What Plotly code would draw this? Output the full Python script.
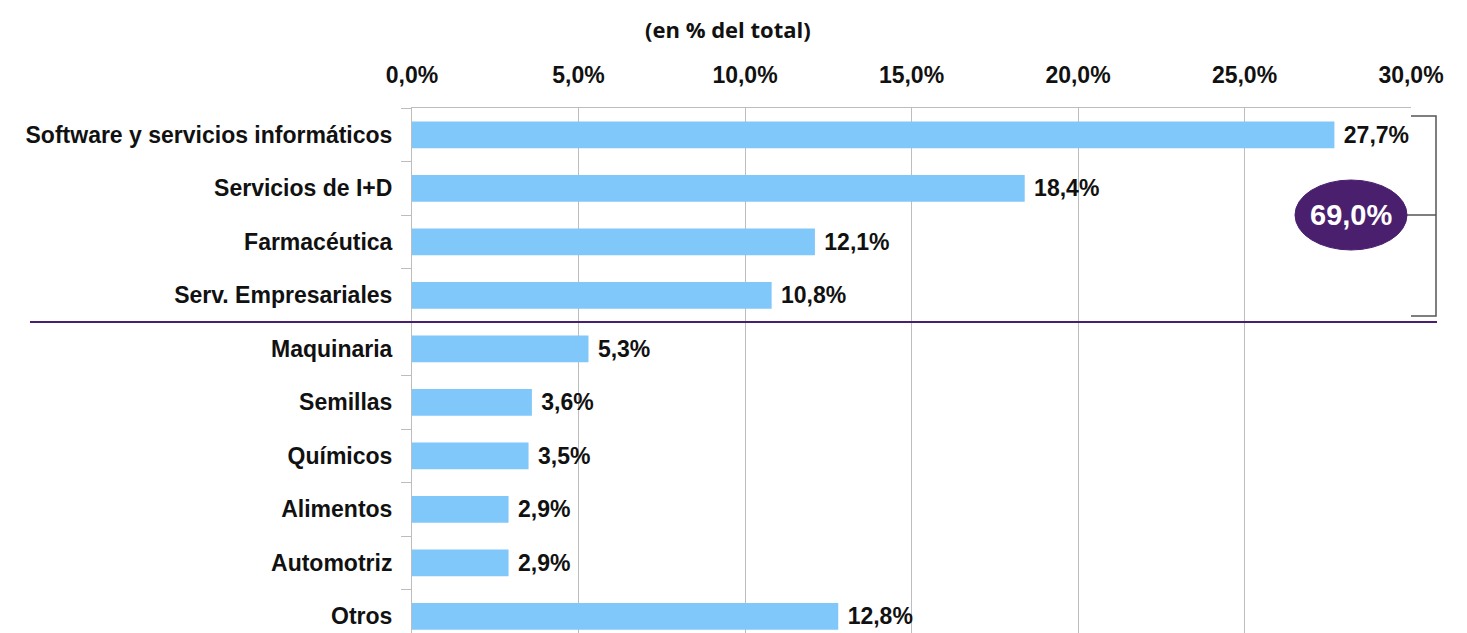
import plotly.graph_objects as go

categories = ["Software y servicios informáticos", "Servicios de I+D", "Farmacéutica",
              "Serv. Empresariales", "Maquinaria", "Semillas", "Químicos", "Alimentos",
              "Automotriz", "Otros"]
values = [27.7, 18.4, 12.1, 10.8, 5.3, 3.6, 3.5, 2.9, 2.9, 12.8]
labels = ["27,7%", "18,4%", "12,1%", "10,8%", "5,3%", "3,6%", "3,5%", "2,9%", "2,9%", "12,8%"]
tick_vals = [0, 5, 10, 15, 20, 25, 30]
tick_text = ["0,0%", "5,0%", "10,0%", "15,0%", "20,0%", "25,0%", "30,0%"]
top_total_label = "69,0%"
title_text = "(en % del total)"

PURPLE = "#4A1F6E"
FONT = "Liberation Sans, Arial, sans-serif"

# page body has an 8px margin; work in screen pixels and convert
OFF = 8
W, H = 1467 - OFF, 633 - OFF
L, R, T = 412 - OFF, 56, 108 - OFF
pw = W - L - R
row = 53.5
n_visible = (H - T) / row

def px_to_paper(px):
    return (px - OFF - L) / pw

def py_to_data(py):
    return (py - OFF - T) / row - 0.5

fig = go.Figure()
fig.add_trace(go.Bar(
    x=values, y=categories, orientation="h",
    marker=dict(color="#80C8FA", line=dict(width=0)),
    width=0.5,
    text=labels, texttemplate=" %{text}", textposition="outside", cliponaxis=False,
    textfont=dict(family=FONT, size=23, color="#111111", weight="bold"),
))

fig.update_layout(
    width=W, height=H,
    margin=dict(l=L, r=R, t=T, b=0, autoexpand=False),
    plot_bgcolor="white", paper_bgcolor="white",
    showlegend=False,
    xaxis=dict(
        side="top", range=[0, 30], tickvals=tick_vals, ticktext=tick_text,
        showgrid=True, gridcolor="#BDBDBD", gridwidth=1,
        showline=True, linecolor="#BDBDBD", linewidth=1,
        ticks="", zeroline=False, automargin=False,
        tickfont=dict(family=FONT, size=23, color="#111111", weight="bold"),
        ticklabelstandoff=15,
    ),
    yaxis=dict(
        range=[-0.5 + n_visible, -0.5], automargin=False,
        showline=True, linecolor="#BDBDBD", linewidth=1,
        ticks="outside", tickson="boundaries", ticklen=10, tickcolor="#BDBDBD",
        tickfont=dict(family=FONT, size=23, color="#111111", weight="bold"),
        ticklabelstandoff=14,
    ),
)

# title
fig.add_annotation(
    text=title_text, xref="paper", yref="paper",
    x=px_to_paper(728), y=1 + (T - (29 - OFF)) / (H - T), showarrow=False,
    xanchor="center", yanchor="middle",
    font=dict(family="Open Sans, sans-serif", size=22, color="#111111", weight="bold"),
)

# purple separator line between top-4 and the rest
fig.add_shape(type="line", xref="paper", yref="y",
              x0=px_to_paper(30), x1=px_to_paper(1437), y0=3.5, y1=3.5,
              line=dict(color=PURPLE, width=2))

# bracket
bx = px_to_paper(1436)
bx_in = px_to_paper(1411)
ytop = py_to_data(116)
ybot = py_to_data(316)
ymid = py_to_data(215)
bx_mid_in = px_to_paper(1407)
fig.add_shape(type="path", xref="paper", yref="y",
              path=f"M {bx_in} {ytop} L {bx} {ytop} L {bx} {ybot} L {bx_in} {ybot}",
              line=dict(color="#555555", width=1.5))
fig.add_shape(type="line", xref="paper", yref="y",
              x0=bx_mid_in, x1=bx, y0=ymid, y1=ymid,
              line=dict(color="#555555", width=1.5))

# ellipse with total
fig.add_shape(type="circle", xref="paper", yref="y",
              x0=px_to_paper(1295), x1=px_to_paper(1407),
              y0=py_to_data(180), y1=py_to_data(250),
              fillcolor=PURPLE, line=dict(color=PURPLE, width=1))
fig.add_annotation(text=top_total_label, xref="paper", yref="y",
                   x=px_to_paper(1351), y=ymid, showarrow=False,
                   xanchor="center", yanchor="middle",
                   font=dict(family=FONT, size=29, color="white", weight="bold"))

fig.write_html("out.html")
